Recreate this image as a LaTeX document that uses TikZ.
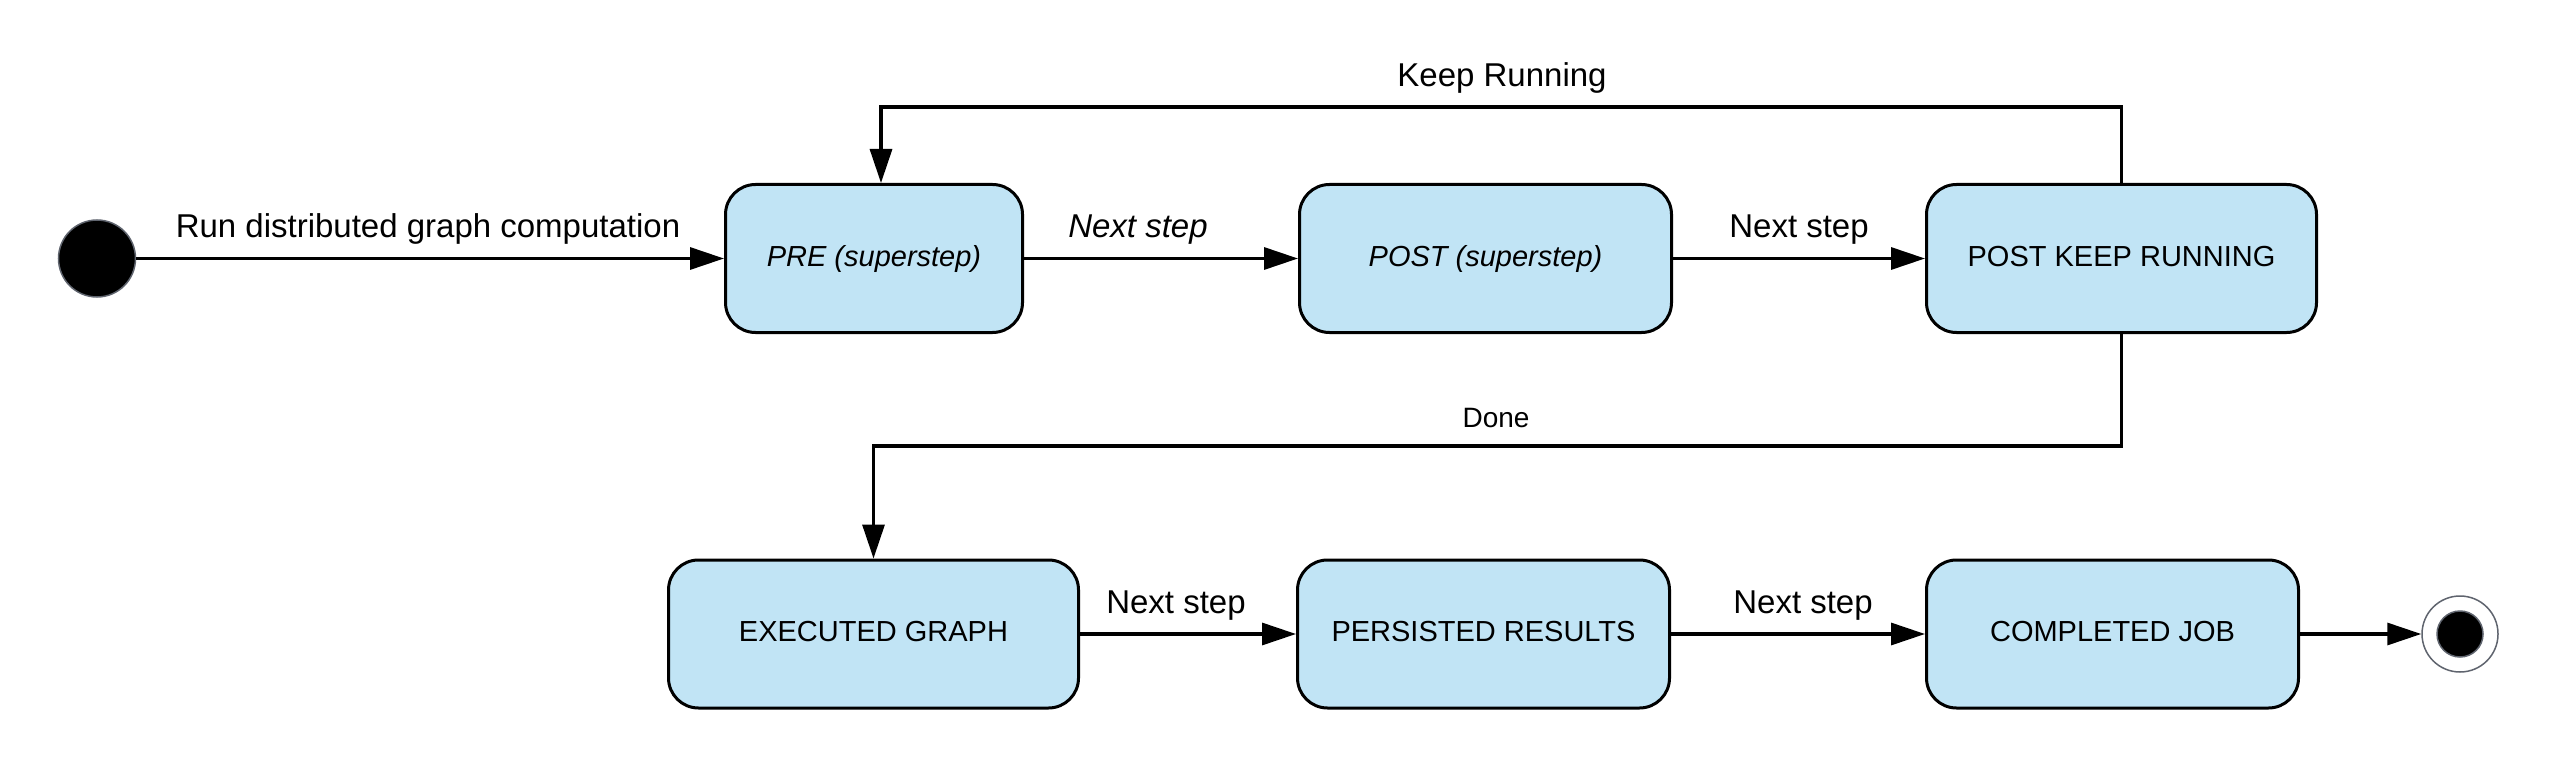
\documentclass[tikz,border=0pt]{standalone}
\usepackage{fontspec}
\setmainfont{Liberation Sans}
\usetikzlibrary{arrows.meta}
\definecolor{boxfill}{RGB}{193,228,245}
\definecolor{ringgray}{RGB}{95,100,110}
\begin{document}
\begin{tikzpicture}[x=0.5pt,y=-0.5pt,
  state/.style={draw=black, line width=1.5pt, fill=boxfill, rounded corners=15pt,
    minimum height=74pt, inner sep=0pt, align=center,
    text height=10.6pt, text depth=3pt,
    font=\fontsize{14.5}{17}\selectfont},
  arr/.style={line width=1.6pt, -{Triangle[length=17pt,width=11pt]}},
  lbl/.style={font=\fontsize{16.5}{20}\selectfont, anchor=base, inner sep=0pt},
  smalllbl/.style={font=\fontsize{14}{17}\selectfont, anchor=base, inner sep=0pt},
  ]
\useasboundingbox (0,0) rectangle (2558,770);
% initial and final states
\node[circle, fill=black, draw=ringgray, line width=0.75pt, minimum size=38.5pt, inner sep=0pt] (start) at (97,258.5) {};
\node[circle, fill=white, draw=ringgray, line width=0.75pt, minimum size=38pt, inner sep=0pt] (final) at (2460,634) {};
\node[circle, fill=black, draw=ringgray, line width=0.75pt, minimum size=23pt, inner sep=0pt] (finalin) at (2460,634) {};
% states
\node[state, minimum width=148.5pt] (pre)  at (874,258.5)    {\itshape PRE (superstep)};
\node[state, minimum width=186pt]   (post) at (1485.5,258.5) {\itshape POST (superstep)};
\node[state, minimum width=195pt]   (keep) at (2121.5,258.5) {POST KEEP RUNNING};
\node[state, minimum width=205pt]   (exec) at (873.5,634)    {EXECUTED GRAPH};
\node[state, minimum width=186pt]   (pers) at (1483.5,634)   {PERSISTED RESULTS};
\node[state, minimum width=186pt]   (comp) at (2112.5,634)   {COMPLETED JOB};
% connectors
\draw[arr] (start) -- (pre);
\draw[arr] (pre) -- (post);
\draw[arr] (post) -- (keep);
\coordinate (kr) at (1500,107);
\draw[arr] (keep.north) |- (kr) -| ([xshift=3.5pt]pre.north);
\coordinate (dn) at (1500,446);
\draw[arr] (keep.south) |- (dn) -| (exec.north);
\draw[arr] (exec) -- (pers);
\draw[arr] (pers) -- (comp);
\draw[arr] (comp) -- (final);
% labels
\node[lbl] (l1) at (428,238) {Run distributed graph computation};
\node[lbl] (l2) at (1138,238) {\itshape Next step};
\node[lbl] (l3) at (1799,238) {Next step};
\node[lbl] (l4) at (1502,87) {Keep Running};
\node[smalllbl] (l5) at (1496,427) {Done};
\node[lbl] (l6) at (1176,613) {Next step};
\node[lbl] (l7) at (1803,613) {Next step};
\end{tikzpicture}
\end{document}
